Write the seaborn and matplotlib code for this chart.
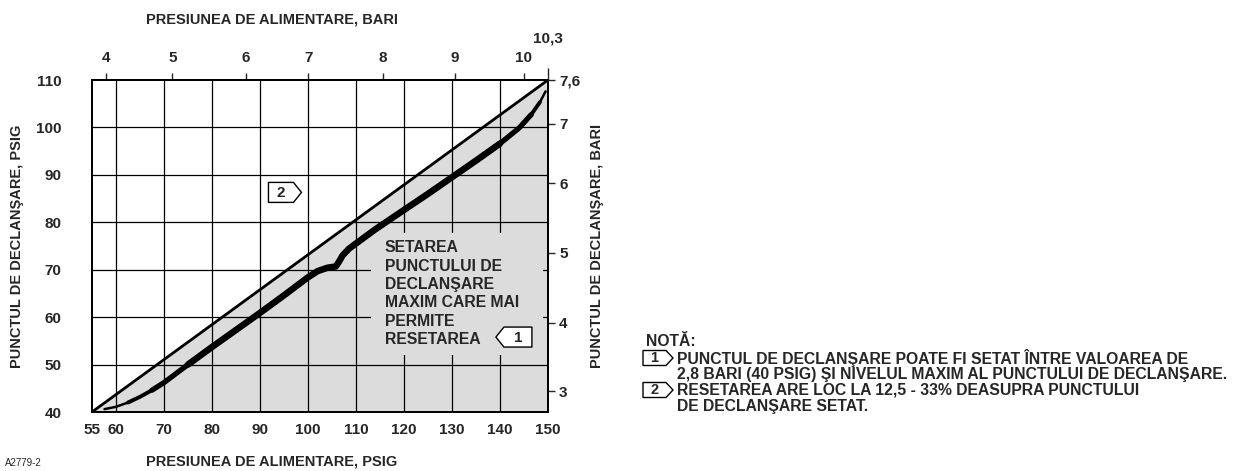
import numpy as np
import pandas as pd
import matplotlib
matplotlib.use('Agg')
import matplotlib.pyplot as plt
import matplotlib.transforms as mtransforms
from matplotlib.patches import Polygon, Rectangle
import seaborn as sns

# values (psig on both axes)
psig_ticks = [55, 60, 70, 80, 90, 100, 110, 120, 130, 140, 150]
trip_ticks = [40, 50, 60, 70, 80, 90, 100, 110]

# bar scales, placed where the reference puts them (in psig)
bar_top_labels = ['4', '5', '6', '7', '8', '9', '10']
bar_top_pos = [57.9, 71.75, 87.0, 100.1, 115.6, 130.6, 145.0]
bar_top_end_label = '10,3'
bar_top_end_pos = 150.0
bar_right_labels = ['3', '4', '5', '6', '7']
bar_right_pos = [44.4, 58.8, 73.6, 88.2, 100.8]
bar_right_end_label = '7,6'
bar_right_end_pos = 110.0

# max trip point that still allows reset (straight line)
limit_x = [55, 150]
limit_y = [40, 110]

# reset curve (thick line)
curve_x = [57.6, 60.0, 62.5, 65.0, 67.5, 70.0, 75.0, 80.0, 85.0, 90.0, 95.0, 100.0, 102.0,
           104.0, 105.8, 106.4, 107.2, 108.5, 110.1, 114.0, 120.0, 125.0, 130.0, 135.0,
           140.0, 144.0, 146.5, 148.3, 149.5]
curve_y = [40.6, 41.1, 42.0, 43.2, 44.6, 46.2, 50.0, 53.7, 57.3, 60.9, 64.6, 68.4, 69.7,
           70.4, 70.7, 71.6, 73.0, 74.4, 75.6, 78.5, 82.6, 86.0, 89.5, 93.0,
           96.6, 99.9, 102.7, 105.3, 107.6]

zone_lines = ["SETAREA", "PUNCTULUI DE", "DECLANŞARE", "MAXIM CARE MAI", "PERMITE", "RESETAREA"]

note_lines = ["PUNCTUL DE DECLANŞARE POATE FI SETAT ÎNTRE VALOAREA DE",
              "2,8 BARI (40 PSIG) ŞI NIVELUL MAXIM AL PUNCTULUI DE DECLANŞARE.",
              "RESETAREA ARE LOC LA 12,5 - 33% DEASUPRA PUNCTULUI",
              "DE DECLANŞARE SETAT."]

sns.set_style('white')
plt.rcParams['font.family'] = ['Liberation Sans', 'DejaVu Sans']
plt.rcParams['font.weight'] = 'bold'

W, H = 1243, 471
fig = plt.figure(figsize=(W / 100, H / 100), dpi=100)


def fx(px):
    return px / W


def fy(py):
    return 1 - py / H


ax = fig.add_axes([fx(92), fy(412), (548 - 92) / W, (412 - 80) / H])
ax.set_xlim(55, 150)
ax.set_ylim(40, 110)

# gray zone under the limit line
ax.fill_between(limit_x, limit_y, 40, color='#dcdcdc', zorder=0, lw=0)

for v in psig_ticks[1:-1]:
    ax.axvline(v, color='black', lw=0.9, zorder=1)
for v in trip_ticks[1:-1]:
    ax.axhline(v, color='black', lw=0.9, zorder=1)

# gray mask behind the text block
ax.add_patch(Rectangle((113.2, 52.0), 35.8, 25.7, facecolor='#dcdcdc', edgecolor='none', zorder=2))

lim_df = pd.DataFrame({'x': limit_x, 'y': limit_y})
sns.lineplot(data=lim_df, x='x', y='y', color='black', lw=2.0, ax=ax, zorder=4)

cur_df = pd.DataFrame({'x': curve_x, 'y': curve_y})
# tapered stroke: thin ends, thick middle
for sl, lw in [(slice(None), 1.8), (slice(2, -1), 2.8), (slice(4, -2), 3.8), (slice(6, -4), 4.7)]:
    sns.lineplot(data=cur_df.iloc[sl], x='x', y='y', color='black', lw=lw, ax=ax, zorder=4,
                 sort=False, solid_capstyle='round', solid_joinstyle='round')

# one text per line, 18.3 px apart
for i, line in enumerate(zone_lines):
    ax.annotate(line, xy=(116.0, 74.6), xytext=(0, -i * 18.3 * 0.72), textcoords='offset points',
                fontsize=11.3, fontweight='bold', va='center', ha='left', zorder=5)


def tag(x, y, label, transform, w, h, tip, right=True, fs=11):
    # pentagon marker, sizes in pixels
    w, h, tip = w / 100, h / 100, tip / 100
    if right:
        verts = [(-w / 2, -h / 2), (w / 2 - tip, -h / 2), (w / 2, 0), (w / 2 - tip, h / 2), (-w / 2, h / 2)]
        cx = -tip / 2
    else:
        verts = [(w / 2, -h / 2), (-w / 2 + tip, -h / 2), (-w / 2, 0), (-w / 2 + tip, h / 2), (w / 2, h / 2)]
        cx = tip / 2
    tr = fig.dpi_scale_trans + mtransforms.ScaledTranslation(x, y, transform)
    fig.add_artist(Polygon(verts, closed=True, facecolor='white', edgecolor='black',
                           lw=1.0, transform=tr, zorder=6))
    fig.text(cx, -0.005, label, transform=tr, ha='center', va='center',
             fontsize=fs, fontweight='bold', zorder=7)


tag(95.2, 86.3, '2', ax.transData, 33, 20, 8, right=True)
tag(142.9, 55.8, '1', ax.transData, 36, 20, 8, right=False)

ax.set_xticks(psig_ticks)
ax.set_yticks(trip_ticks)
ax.tick_params(axis='x', length=0, pad=8, labelsize=11)
ax.tick_params(axis='y', length=0, pad=22, labelsize=11)
for lab in ax.get_xticklabels() + ax.get_yticklabels():
    lab.set_fontweight('bold')
ax.set_xlabel('')
ax.set_ylabel('')
for s in ax.spines.values():
    s.set_color('black')
    s.set_linewidth(1.3)
    s.set_visible(True)

# top bar scale
top = ax.twiny()
top.set_xlim(ax.get_xlim())
top.set_xticks(bar_top_pos)
top.set_xticklabels(bar_top_labels, fontweight='bold')
top.set_xticks([bar_top_end_pos], minor=True)
top.set_xticklabels([bar_top_end_label], minor=True, fontweight='bold')
top.tick_params(which='major', direction='out', length=5, width=1, pad=6, labelsize=11)
top.tick_params(which='minor', direction='out', length=9, width=1, pad=16, labelsize=11)

# right bar scale
right = ax.twinx()
right.set_ylim(ax.get_ylim())
right.set_yticks(bar_right_pos)
right.set_yticklabels(bar_right_labels, fontweight='bold')
right.set_yticks([bar_right_end_pos], minor=True)
right.set_yticklabels([bar_right_end_label], minor=True, fontweight='bold')
right.tick_params(which='both', direction='out', length=5, width=1, pad=3, labelsize=11)
for a in (top, right):
    for s in a.spines.values():
        s.set_color('black')
        s.set_linewidth(1.3)

fig.text(fx(272), fy(20), "PRESIUNEA DE ALIMENTARE, BARI", ha='center', va='center', fontsize=10.5, fontweight='bold')
fig.text(fx(272), fy(462), "PRESIUNEA DE ALIMENTARE, PSIG", ha='center', va='center', fontsize=10.5, fontweight='bold')
fig.text(fx(17), fy(246), "PUNCTUL DE DECLANŞARE, PSIG", ha='center', va='center', rotation=90,
         fontsize=10.5, fontweight='bold')
fig.text(fx(597), fy(246), "PUNCTUL DE DECLANŞARE, BARI", ha='center', va='center', rotation=90,
         fontsize=10.5, fontweight='bold')
fig.text(fx(5), fy(463), "A2779-2", ha='left', va='center', fontsize=7, fontweight='normal')

# note block
fig.text(fx(646), fy(342), "NOTĂ:", ha='left', va='center', fontsize=11.3, fontweight='bold')
note_y = [358, 374, 390, 406]
for txt, py in zip(note_lines, note_y):
    fig.text(fx(677), fy(py), txt, ha='left', va='center', fontsize=11.3, fontweight='bold')
tag(fx(658), fy(358), '1', fig.transFigure, 30, 15, 7, right=True, fs=10.5)
tag(fx(658), fy(390), '2', fig.transFigure, 30, 15, 7, right=True, fs=10.5)

fig.savefig('out.png', dpi=100)
